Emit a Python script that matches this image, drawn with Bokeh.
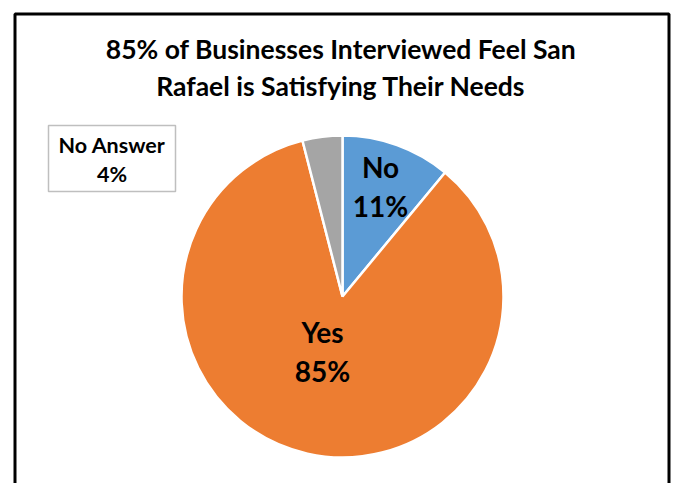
import math
from bokeh.plotting import figure
from bokeh.models import Range1d
from bokeh.core.properties import value
from bokeh.embed import file_html
from bokeh.resources import INLINE

# ---- data ----
categories = ["No", "Yes", "No Answer"]
percents = [11, 85, 4]
colors = ["#5B9BD5", "#ED7D31", "#A5A5A5"]
title_lines = ["85% of Businesses Interviewed Feel San", "Rafael is Satisfying Their Needs"]

W, H = 673, 483
FONT = "Lato"

p = figure(width=W, height=H, output_backend="svg", toolbar_location=None,
           x_range=Range1d(0, W), y_range=Range1d(H, 0), min_border=0)
p.axis.visible = False
p.grid.visible = False
p.outline_line_color = None
p.background_fill_color = "white"
p.border_fill_color = "white"

# chart border
p.quad(left=[14.5], right=[668.5], top=[13.5], bottom=[H + 10],
       fill_color=None, line_color="black", line_width=3)

# title
for i, t in enumerate(title_lines):
    p.text(x=[W / 2 + 4], y=[48 + i * 37], text=[t], text_font=value(FONT),
           text_font_style="bold", text_font_size="26.5px", text_align="center",
           text_baseline="middle", text_color="black")

# pie: start at 12 o'clock, going clockwise
cx, cy, r = 342, 296, 161
total = sum(percents)
cum = 0
starts, ends = [], []
for v in percents:
    a0 = cum / total * 2 * math.pi
    cum += v
    a1 = cum / total * 2 * math.pi
    starts.append(math.pi / 2 - a1)
    ends.append(math.pi / 2 - a0)

p.wedge(x=[cx] * 3, y=[cy] * 3, radius=r, start_angle=starts, end_angle=ends,
        fill_color=colors, line_color="white", line_width=2.5, direction="anticlock")

# labels
lab_pos = {"No": (380, 166, 205), "Yes": (322, 331, 370)}
for cat, v in zip(categories, percents):
    if cat in lab_pos:
        x, y1, y2 = lab_pos[cat]
        for y, t in ((y1, cat), (y2, f"{v}%")):
            p.text(x=[x], y=[y], text=[t], text_font=value(FONT), text_font_style="bold",
                   text_font_size="28px", text_align="center", text_baseline="middle",
                   text_color="black")

# No Answer callout box
bx0, bx1, by0, by1 = 48, 175, 125, 191
p.quad(left=[bx0], right=[bx1], top=[by0], bottom=[by1], fill_color="white",
       line_color="#BFBFBF", line_width=1.5)
na_cat, na_val = categories[2], percents[2]
for y, t in ((144, na_cat), (173, f"{na_val}%")):
    p.text(x=[(bx0 + bx1) / 2], y=[y], text=[t], text_font=value(FONT), text_font_style="bold",
           text_font_size="21.5px", text_align="center", text_baseline="middle", text_color="black")

open("out.html", "w").write(file_html(p, INLINE))
